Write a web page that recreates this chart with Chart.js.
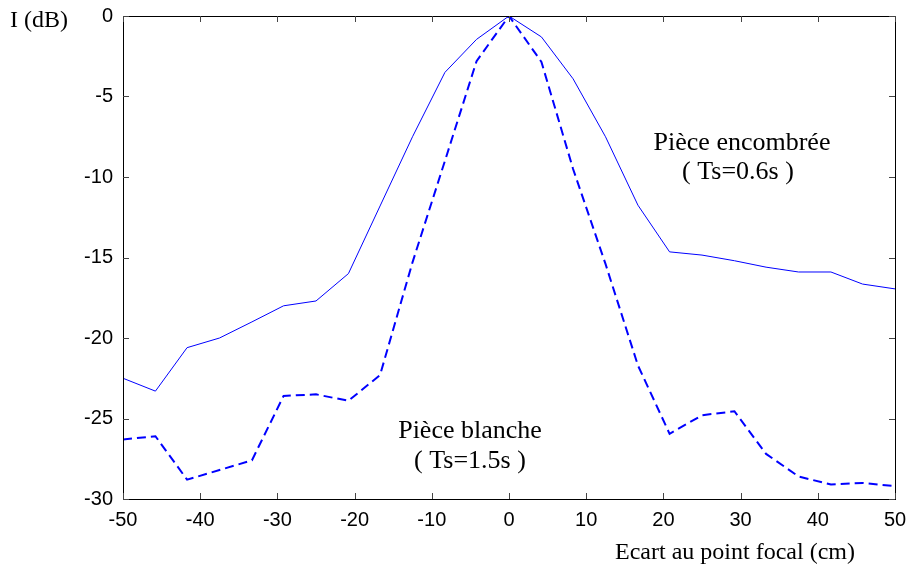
<!DOCTYPE html>
<html>
<head>
<meta charset="utf-8">
<script src="https://cdn.jsdelivr.net/npm/chart.js@4.4.1/dist/chart.umd.min.js"></script>
<style>
  html, body { margin: 0; padding: 0; background: #fff; }
  #wrap { width: 912px; height: 581px; }
</style>
</head>
<body>
<div id="wrap"><canvas id="c" width="912" height="581"></canvas></div>
<script>
// Ecart au point focal (cm)
const ecart = [-50, -45.8, -41.7, -37.5, -33.3, -29.2, -25, -20.8, -16.7, -12.5, -8.3, -4.2,
  0, 4.2, 8.3, 12.5, 16.7, 20.8, 25, 29.2, 33.3, 37.5, 41.7, 45.8, 50];

// Pièce encombrée (Ts=0.6s), trait plein
const encombree = [-22.5, -23.3, -20.6, -20.0, -19.0, -18.0, -17.7, -16.0, -11.8, -7.5, -3.5, -1.45,
  0, -1.3, -3.9, -7.5, -11.75, -14.65, -14.85, -15.2, -15.6, -15.9, -15.9, -16.65, -16.95];

// Pièce blanche (Ts=1.5s), pointillés
const blanche = [-26.3, -26.1, -28.8, -28.2, -27.6, -23.6, -23.5, -23.9, -22.3, -15.3, -9.0, -2.8,
  0, -2.85, -9.5, -15.4, -21.7, -25.95, -24.8, -24.55, -27.2, -28.6, -29.1, -29.0, -29.2];

const xTicks = [-50, -40, -30, -20, -10, 0, 10, 20, 30, 40, 50];
const yTicks = [0, -5, -10, -15, -20, -25, -30];

const toPoints = (ys) => ys.map((y, i) => ({ x: ecart[i], y: y }));

const sansFont = { family: 'Liberation Sans, Arial, sans-serif', size: 20 };
const serif = '24px "Liberation Serif", "Times New Roman", serif';

// box around the plot + inward ticks on all four sides, and the free texts
const framePlugin = {
  id: 'frame',
  afterDatasetsDraw(chart) {
    const { ctx, chartArea: a, scales } = chart;
    const tl = 6;
    ctx.save();
    ctx.strokeStyle = '#000';
    ctx.lineWidth = 1;
    ctx.strokeRect(a.left + 0.5, a.top + 0.5, a.right - a.left, a.bottom - a.top);

    ctx.strokeStyle = '#444';
    ctx.beginPath();
    xTicks.forEach(v => {
      const px = Math.round(scales.x.getPixelForValue(v)) + 0.5;
      ctx.moveTo(px, a.bottom); ctx.lineTo(px, a.bottom - tl);
      ctx.moveTo(px, a.top); ctx.lineTo(px, a.top + tl);
    });
    yTicks.forEach(v => {
      const py = Math.round(scales.y.getPixelForValue(v)) + 0.5;
      ctx.moveTo(a.left, py); ctx.lineTo(a.left + tl, py);
      ctx.moveTo(a.right, py); ctx.lineTo(a.right - tl, py);
    });
    ctx.stroke();

    ctx.fillStyle = '#000';
    ctx.font = serif;
    ctx.textAlign = 'center';
    ctx.textBaseline = 'middle';
    ctx.fillText('I (dB)', 39, 21);
    ctx.font = '26px "Liberation Serif", "Times New Roman", serif';
    ctx.fillText('Pièce encombrée', 742, 143);
    ctx.fillText('( Ts=0.6s )', 738, 172);
    ctx.fillText('Pièce blanche', 470, 431);
    ctx.fillText('( Ts=1.5s )', 470, 461);
    ctx.font = serif;
    ctx.fillText('Ecart au point focal (cm)', 735, 553);
    ctx.restore();
  }
};

new Chart(document.getElementById('c'), {
  type: 'line',
  data: {
    datasets: [
      {
        label: 'Pièce encombrée',
        data: toPoints(encombree),
        borderColor: '#0000ff',
        borderWidth: 1,
        pointRadius: 0,
        tension: 0,
        fill: false
      },
      {
        label: 'Pièce blanche',
        data: toPoints(blanche),
        borderColor: '#0000ff',
        borderWidth: 2,
        borderDash: [9, 5],
        pointRadius: 0,
        tension: 0,
        fill: false
      }
    ]
  },
  options: {
    responsive: false,
    devicePixelRatio: 1,
    animation: false,
    layout: { padding: { top: 16, right: 17, left: 0, bottom: 0 } },
    plugins: {
      legend: { display: false },
      tooltip: { enabled: false }
    },
    scales: {
      x: {
        type: 'linear',
        min: -50,
        max: 50,
        afterFit: (s) => { s.height = 82; s.paddingLeft = 0; s.paddingRight = 0; },
        afterBuildTicks: (s) => { s.ticks = xTicks.map(v => ({ value: v })); },
        grid: { display: false, drawTicks: false },
        border: { display: false },
        ticks: { color: '#000', font: sansFont, padding: 9, maxRotation: 0 }
      },
      y: {
        type: 'linear',
        min: -30,
        max: 0,
        afterFit: (s) => { s.width = 123; s.paddingTop = 0; s.paddingBottom = 0; },
        afterBuildTicks: (s) => { s.ticks = yTicks.map(v => ({ value: v })); },
        grid: { display: false, drawTicks: false },
        border: { display: false },
        ticks: { color: '#000', font: sansFont, padding: 10 }
      }
    }
  },
  plugins: [framePlugin]
});
</script>
</body>
</html>
